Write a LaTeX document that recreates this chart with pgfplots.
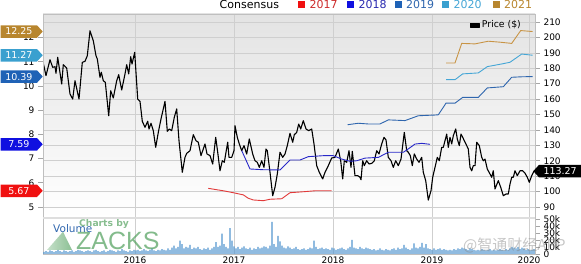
\documentclass[border=0pt]{standalone}
\usepackage{fontspec}
\setmainfont{DejaVu Sans}
\newfontfamily\zackfont{Liberation Sans}
\newfontfamily\cjk{Noto Sans CJK SC}
\usepackage{pgfplots}
\pgfplotsset{compat=1.18}
\usetikzlibrary{shapes.symbols}
\definecolor{c17}{HTML}{E23A3A}
\definecolor{c17t}{HTML}{CC2A2A}
\definecolor{c17s}{HTML}{F01010}
\definecolor{c18}{HTML}{2828C8}
\definecolor{c18t}{HTML}{2A2AB0}
\definecolor{c18s}{HTML}{1010E0}
\definecolor{c19}{HTML}{2F66AE}
\definecolor{c19s}{HTML}{1F62B6}
\definecolor{c20}{HTML}{45A6D6}
\definecolor{c20s}{HTML}{3AA0CF}
\definecolor{c21}{HTML}{C89445}
\definecolor{c21s}{HTML}{B8862E}
\definecolor{vol}{HTML}{5597CF}
\definecolor{gridc}{HTML}{CFCFCF}
\definecolor{zgreen}{HTML}{4E9E5A}
\pgfplotsset{
  base/.style={at={(43pt,46pt)}, anchor=south west, width=492pt, height=204pt, scale only axis,
    xmin=43, xmax=535, font=\fontsize{9}{10}\selectfont,
    /pgf/number format/assume math mode=true,
    tick align=outside, major tick length=5pt, tick style={gray!70, line width=0.6pt}}
}
\tikzset{tag/.style={signal, text=white, minimum height=12.5pt, minimum width=42pt, inner sep=0pt,
    font=\fontsize{9.5}{10}\selectfont, signal pointer angle=95}}
\begin{document}
\begin{tikzpicture}[x=1pt,y=1pt]
\useasboundingbox (0,0) rectangle (581,264);
% ---------------- price axis (right scale)
\begin{axis}[base, ymin=82.865, ymax=215.19,
  axis background/.style={top color=black!11, middle color=white, bottom color=white},
  axis line style={gray!50},
  ytick pos=right, yticklabel pos=right, ytick={90,100,...,210},
  xtick={135,234,333,432,529}, xticklabels={}, xtick style={draw=none},
  grid=major, major grid style={gridc, line width=0.6pt},
  legend style={draw=none, fill=none, at={(axis cs:526,208)}, anchor=east,
    font=\fontsize{9.3}{10}\selectfont},
  legend image code/.code={\fill[black] (0pt,-2pt) rectangle (9pt,2pt);}]
\addplot[black, line width=1.1pt, line join=round] coordinates {
(43.3,183.2)(46,175.2)(50,185.5)(52.7,180.6)(55,181.0)(56,176.7)(57.7,187.1)(61.7,169.8)
(63.3,182.3)(66.7,180.1)(70,163.3)(72.7,160.0)(75,171.9)(79,160.0)(82.3,183.8)(85,184.5)
(87.3,188.1)(90,204.3)(93.3,197.8)(96,188.1)(97.3,186.0)(100,174.1)(101.3,177.4)(103.3,171.9)
(105.3,170.9)(108.7,149.2)(110.7,165.4)(113.3,160.7)(116.7,171.9)(118.7,175.8)(121.7,165.9)
(125,176.3)(126.7,182.3)(128.7,176.3)(130.7,187.5)(132,182.7)(134.7,190.3)
(137.7,160.0)(140,158.5)(142.3,145.6)(145,141.7)(147.7,145.6)(149,140.6)(151,144.3)(153.3,139.5)
(155.7,128.7)(158.3,138.4)(161,147.1)(165,158.5)(167.3,139.1)(169.3,140.6)(171.7,139.5)
(174.3,148.2)(176.7,153.6)(179,133.0)(182.3,112.5)(185,122.2)(186.7,124.8)(190,126.5)
(193.3,136.9)(196,133.0)(198.3,132.0)(201,123.3)(205,130.9)(207,124.4)(210,123.3)(212.7,117.9)
(215.7,135.2)(217.7,125.5)(220,113.5)(222.3,120.0)(224.3,119.0)(227.7,132.0)(229,122.2)
(231.7,122.2)(234,126.5)(235,142.7)(237.3,135.2)(239.3,130.9)(241.7,126.5)(244,129.8)
(246.7,124.4)(249.3,134.1)(252.7,124.4)(255,120.0)(257.3,119.0)(259.3,115.7)(261.7,120.0)
(264,115.7)(266,127.6)(267.3,126.5)(270,112.5)(272.7,97.3)(275,102.8)(277.3,111.4)(280,125.5)
(282.7,122.2)(285,124.4)(287.3,129.8)(290,137.8)(292.7,132.0)(294.3,136.9)(296.7,138.4)
(298.7,143.8)(300.7,140.6)(303.3,146.0)(306,140.6)(308.7,139.5)(311.7,140.6)(314,130.9)
(316.7,116.8)(319.3,112.5)(322.7,108.2)(325,112.5)
(328.3,116.8)(331.7,121.8)(335,122.2)(338.3,127.6)(340.7,120.0)(342.7,108.2)(344.3,120.0)
(346.7,119.0)(349,126.5)(351,115.7)(352.3,126.1)(355,110.3)(357.7,110.3)(360,109.3)(361,107.7)
(362.7,120.0)(364.3,116.8)(366.7,120.0)(369,117.9)(371.7,118.3)(374.3,120.0)(376.7,126.5)
(379,124.4)(381.7,130.9)(384,135.2)(386,133.5)(388.3,122.2)(391,120.0)(393.3,115.7)(395.7,120.0)
(398.3,116.8)(401,121.1)(404.3,138.4)(406.7,126.5)(408.3,125.5)(410.3,123.3)(412.3,116.8)
(414.3,124.4)(416.7,121.1)(419,119.0)(421.7,122.2)(423.3,112.5)(425.7,107.1)(428.3,94.5)(431,100.6)
(432.7,109.3)(435,115.7)(437.3,122.2)(439.3,120.0)(441.7,128.7)(443.3,128.7)(445,133.0)
(446.7,137.3)(448.3,128.7)(450,135.2)(451.7,130.9)(453.3,136.2)(455.7,140.6)(457.3,134.1)
(459.3,129.8)(461,137.3)(462.7,135.2)(464.3,133.0)(466.7,129.8)(468.3,127.6)(470,115.7)
(471.7,113.5)(473.3,116.8)(475,116.8)(476.7,132.0)(479.3,129.8)(481.7,122.2)(483.3,120.0)
(485,121.1)(487.3,114.6)(490,111.4)(491.7,109.3)(493.3,113.5)(495,101.7)(498.3,107.1)
(500.7,102.8)(503.3,97.3)(506,98.4)(508.3,98.4)(510,104.9)(511.7,109.3)(513.3,109.3)(515,113.5)
(517.3,110.3)(520,113.5)(522.7,113.5)(525,111.9)(527.3,109.3)(529.3,106.0)(531.7,110.3)(534,113.27)
};
\addlegendentry{Price (\$)}
\end{axis}
% ---------------- consensus EPS axis (left scale)
\begin{axis}[base, ymin=4.545, ymax=12.975, hide x axis, axis y line*=left,
  ytick={5,...,12}, y axis line style={gray!50}]
\addplot[c17, line width=0.9pt] coordinates {
(208.3,5.77)(223.3,5.67)(233.3,5.59)(243.3,5.50)(248.3,5.36)(253.3,5.29)(263.3,5.26)(270,5.32)
(281.7,5.34)(290,5.59)(303.3,5.63)(315,5.67)(331.7,5.67)};
\addplot[c18, line width=0.9pt] coordinates {
(241.7,7.33)(250,6.57)(263.3,6.54)(280,6.53)(290,6.94)(300,6.94)(308.3,7.08)(323.3,7.12)
(333.3,7.12)(341.7,6.98)(350,6.89)(356.7,6.91)(365,7.02)(378.3,7.05)(388.3,7.26)(403.3,7.26)
(408.3,7.40)(415,7.60)(421.7,7.63)(430,7.59)};
\addplot[c19, line width=0.9pt] coordinates {
(347.7,8.40)(358.3,8.46)(368.3,8.43)(380,8.43)(388.3,8.60)(405,8.57)(418.3,8.77)(435,8.80)
(438.3,8.81)(446,9.29)(455,9.29)(462.7,9.53)(478.3,9.53)(487.3,9.92)(503.3,9.97)(511.7,10.36)
(521.7,10.38)(532.7,10.39)};
\addplot[c20, line width=0.9pt] coordinates {
(446,10.26)(455,10.26)(462.7,10.50)(478.3,10.54)(487.3,10.80)(501.7,10.91)(510,10.98)
(521.7,11.32)(532.7,11.27)};
\addplot[c21, line width=0.9pt] coordinates {
(446,10.95)(455,10.95)(461.7,11.76)(475,11.74)(488.3,11.85)(500,11.81)(511.7,11.76)
(520.7,12.29)(532.7,12.25)};
\end{axis}
% ---------------- volume axis
\begin{axis}[at={(43pt,10pt)}, anchor=south west, width=492pt, height=36pt, scale only axis,
  xmin=43, xmax=535, ymin=0, ymax=51.4, font=\fontsize{9}{10}\selectfont,
  /pgf/number format/assume math mode=true,
  tick align=outside, major tick length=5pt, tick style={gray!70, line width=0.6pt},
  axis line style={gray!50},
  ytick pos=right, yticklabel pos=right, ytick={0,10,...,50}, yticklabels={0,10k,20k,30k,40k,50k},
  xtick={135,234,333,432,529}, xticklabels={2016,2017,2018,2019,2020}, xtick style={draw=none},
  xticklabel style={inner sep=0pt, yshift=2.5pt},
  xmajorgrids, major grid style={gridc, line width=0.6pt}]
\addplot[ybar, bar width=1.3, fill=vol, draw=none] coordinates {
(44,3)(46,4)(48,3)(50,5)(52,4)(54,3)(56,4)(58,6)(60,4)(62,3)(64,5)(66,4)(68,3)(70,4)(72,5)
(74,3)(76,4)(78,6)(80,5)(82,4)(84,3)(86,4)(88,5)(90,4)(92,3)(94,5)(96,6)(98,4)(100,3)
(102,4)(104,5)(106,3)(108,4)(110,6)(112,5)(114,4)(116,3)(118,5)(120,4)(122,7)(124,5)(126,4)
(128,3)(130,5)(132,4)(134,6)
(136,5)(138,6)(140,4)(142,5)(144,7)(146,5)(148,4)(150,6)(152,8)(154,5)(156,4)(158,6)(160,5)
(162,7)(164,6)(166,5)(168,8)(170,6)
(172,9)(174,12)(176,8)(178,10)(180,19)(182,14)(184,8)(186,10)(188,9)(190,13)(192,7)(194,9)
(196,8)(198,10)(200,7)
(202,6)(204,8)(206,7)(208,9)(210,6)(212,8)(214,10)(216,17)(218,10)(220,12)(222,29)(224,14)
(226,10)(228,8)(230,37)(232,19)(234,11)
(236,8)(238,10)(240,7)(242,9)(244,11)(246,8)(248,7)(250,9)(252,6)(254,8)(256,7)(258,10)
(260,8)(262,9)(264,11)(266,10)(268,8)(270,12)
(272,46)(274,14)(276,10)(278,26)(280,18)(282,12)(284,9)(286,8)(288,11)(290,9)(292,7)(294,8)
(296,10)(298,7)(300,6)
(302,7)(304,8)(306,6)(308,7)(310,9)(312,8)(314,19)(316,10)(318,7)(320,8)(322,9)(324,7)
(326,8)(328,7)(330,6)(332,9)(334,8)
(336,6)(338,7)(340,8)(342,9)(344,7)(346,6)(348,8)(350,10)(352,20)(354,9)(356,8)(358,7)
(360,10)(362,8)(364,7)(366,9)(368,8)(370,7)
(372,6)(374,7)(376,5)(378,6)(380,8)(382,6)(384,5)(386,7)(388,6)(390,5)(392,7)(394,8)
(396,6)(398,9)(400,7)
(402,8)(404,13)(406,9)(408,7)(410,6)(412,8)(414,15)(416,9)(418,8)(420,10)(422,16)(424,9)
(426,14)(428,8)(430,7)(432,6)(434,8)
(436,6)(438,7)(440,8)(442,6)(444,7)(446,6)(448,5)(450,6)(452,5)(454,7)(456,6)(458,8)
(460,7)(462,9)(464,8)(466,7)(468,6)(470,8)
(472,7)(474,6)(476,5)(478,6)(480,5)(482,7)(484,6)(486,5)(488,6)(490,7)(492,5)(494,6)
(496,5)(498,6)(500,7)
(502,6)(504,5)(506,7)(508,6)(510,8)(512,10)(514,9)(516,8)(518,10)(520,7)(522,9)(524,8)
(526,6)(528,7)(530,5)(532,6)(534,7)};
\end{axis}
% separator between price and volume panels
\draw[black!13, line width=2.5pt] (43,46) -- (535,46);
% ---------------- logo and labels
\shade[left color=zgreen!50, right color=zgreen, opacity=0.65] (47,14) -- (72,14) -- (63,32.3) -- cycle;
\node[anchor=base west, inner sep=0, text=zgreen, opacity=0.7, font=\zackfont\fontsize{25}{25}\selectfont] at (76,14) {ZACKS};
\node[anchor=base west, inner sep=0, text=zgreen!85, opacity=0.8, font=\bfseries\fontsize{9.2}{10}\selectfont] at (79,37) {Charts by};
\node[anchor=base west, inner sep=0, text=c19, font=\fontsize{10.5}{11}\selectfont] at (53,31) {Volume};
\node[anchor=base west, inner sep=0, text=gray, opacity=0.45, font=\cjk\fontsize{15}{15}\selectfont] at (463,13) {@智通财经APP};
% ---------------- top consensus legend
\begin{scope}[font=\fontsize{11}{12}\selectfont]
\node[anchor=base west, inner sep=0] at (219.5,255) {Consensus};
\fill[c17s] (298,255.7) rectangle ++(7,7);
\node[anchor=base west, inner sep=0, text=c17t] at (309.5,255) {2017};
\fill[c18s] (347,255.7) rectangle ++(7,7);
\node[anchor=base west, inner sep=0, text=c18t] at (358.5,255) {2018};
\fill[c19s] (394.5,255.7) rectangle ++(7,7);
\node[anchor=base west, inner sep=0, text=c19] at (406,255) {2019};
\fill[c20s] (442,255.7) rectangle ++(7,7);
\node[anchor=base west, inner sep=0, text=c20] at (453.5,255) {2020};
\fill[c21s] (492.5,255.7) rectangle ++(7,7);
\node[anchor=base west, inner sep=0, text=c21s] at (504,255) {2021};
\end{scope}
% ---------------- value tags
\begin{axis}[base, hide axis, clip=false, ymin=4.545, ymax=12.975]
\node[tag, signal to=east, fill=c21s, anchor=east] at (axis cs:43,12.25) {12.25};
\node[tag, signal to=east, fill=c20s, anchor=east] at (axis cs:43,11.27) {11.27};
\node[tag, signal to=east, fill=c19s, anchor=east] at (axis cs:43,10.39) {10.39};
\node[tag, signal to=east, fill=c18s, anchor=east] at (axis cs:43,7.59) {7.59};
\node[tag, signal to=east, fill=c17s, anchor=east] at (axis cs:43,5.67) {5.67};
\end{axis}
\begin{axis}[base, hide axis, clip=false, ymin=82.865, ymax=215.19]
\node[tag, signal to=west, fill=black, anchor=west, minimum width=48pt] at (axis cs:533,113.27) {113.27};
\end{axis}
\end{tikzpicture}
\end{document}
